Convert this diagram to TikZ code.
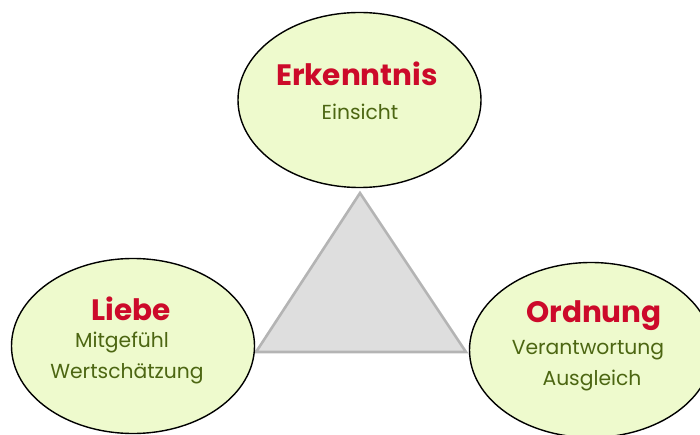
\documentclass[tikz,border=0pt]{standalone}
\usepackage{fontspec}
\setmainfont{Poppins}
\usepackage{xcolor}
\usetikzlibrary{shapes.geometric}
\definecolor{bubblefill}{HTML}{EEFACD}
\definecolor{titlered}{HTML}{CC0A2A}
\definecolor{subgreen}{HTML}{4C6612}
\definecolor{trianglefill}{HTML}{DEDEDE}
\definecolor{triangleline}{HTML}{B4B4B4}

\begin{document}
\begin{tikzpicture}[
    x=1pt, y=-1pt,
    bubble/.style={draw, ellipse, line width=1.4pt, fill=bubblefill, minimum width=243pt, minimum height=175pt, inner sep=0pt},
    titletext/.style={font=\fontsize{29.5}{33}\selectfont\bfseries, text=titlered, anchor=base, inner sep=0pt},
    subtext/.style={font=\fontsize{20.3}{24}\selectfont, text=subgreen, anchor=base, inner sep=0pt}
]
    \useasboundingbox (0,0) rectangle (700,435);
    \clip (0,0) rectangle (700,435);

    % triangle in the middle
    \coordinate (apex) at (360,193);
    \coordinate (baseL) at (256,352);
    \coordinate (baseR) at (466,352);
    \draw[line width=2.6pt, draw=triangleline, fill=trianglefill, line join=miter] (apex) -- (baseL) -- (baseR) -- cycle;

    % the three bubbles
    \node[bubble] (erkenntnis) at (359.5,100) {};
    \node[bubble] (liebe) at (133,346) {};
    \node[bubble] (ordnung) at (591,350) {};

    \node[titletext] (erkTitle) at (357,86) {Erkenntnis};
    \node[subtext] (erkSub) at (360,120) {Einsicht};

    \node[titletext] (liebeTitle) at (131,320) {Liebe};
    \node[subtext] (liebeSubA) at (122,347) {Mitgefühl};
    \node[subtext] (liebeSubB) at (127,378) {Wertschätzung};

    \node[titletext] (ordTitle) at (594,322) {Ordnung};
    \node[subtext] (ordSubA) at (588,354) {Verantwortung};
    \node[subtext] (ordSubB) at (592,385) {Ausgleich};
\end{tikzpicture}
\end{document}
